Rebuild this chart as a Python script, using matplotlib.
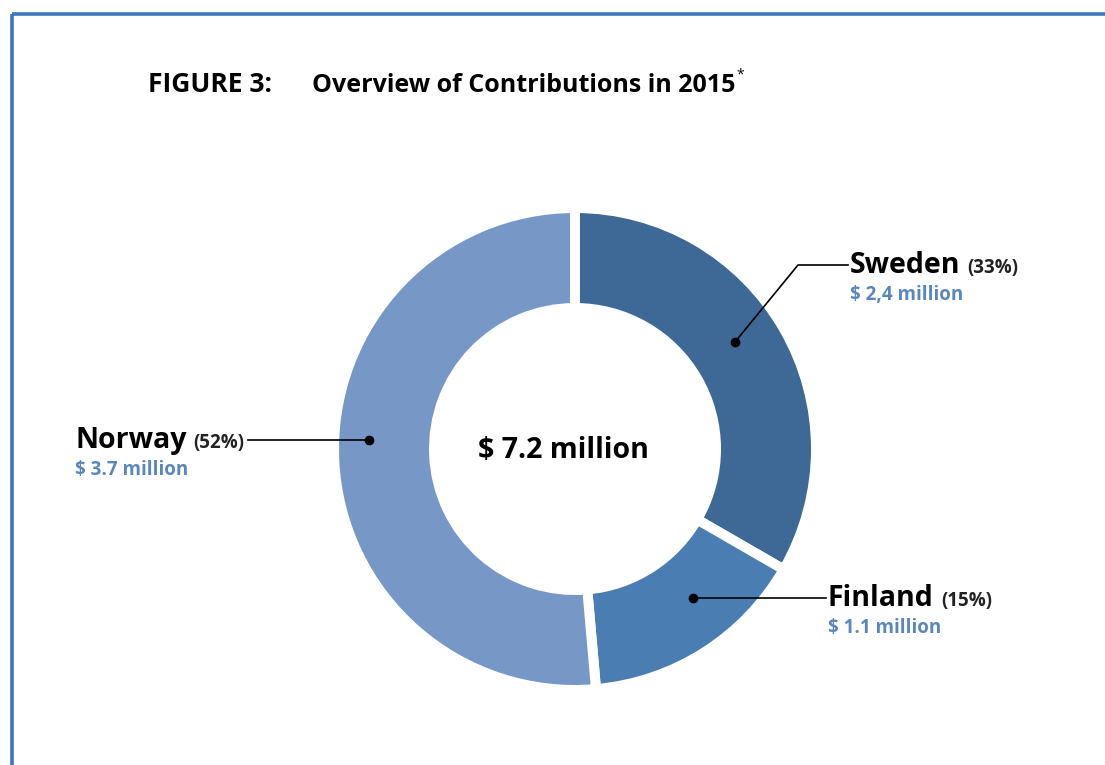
import numpy as np
import matplotlib
matplotlib.use("Agg")
from matplotlib import pyplot as plt

W, H = 1105, 765

countries = ["Sweden", "Finland", "Norway"]
amounts = [2.4, 1.1, 3.7]            # million USD
shares = ["(33%)", "(15%)", "(52%)"]
amount_labels = ["$ 2,4 million", "$ 1.1 million", "$ 3.7 million"]
total_label = "$ 7.2 million"
colors = ["#3e6896", "#4a7db2", "#7798c6"]

# label layout in pixel coords (x, y of leader line, dot position, elbow)
label_pos = [(850, 265), (828, 598), (75, 440)]
dot_pos = [(735, 342), (693, 598), (369, 440)]
elbow = [(798, 265), None, None]
line_end = [(848, 265), (826, 598), (248, 440)]

plt.rcParams['font.family'] = ['Open Sans', 'DejaVu Sans']

fig = plt.figure(figsize=(W / 100, H / 100), dpi=100)
ax = fig.add_axes([0, 0, 1, 1])
ax.set_xlim(0, W)
ax.set_ylim(0, H)
ax.set_aspect('equal')
ax.axis('off')


def py(y):
    return H - y


# frame
ax.plot([12, W], [py(14), py(14)], color="#3b78be", lw=2.6, solid_capstyle='butt')
ax.plot([12, 12], [py(14), 0], color="#3b78be", lw=2.6, solid_capstyle='butt')

# title
ax.text(148, py(92), "FIGURE 3:", fontsize=19, fontweight='bold', va='baseline',
        ha='left')
t = ax.text(312, py(92), "Overview of Contributions in 2015", fontsize=18,
            fontweight='bold', va='baseline', ha='left')
fig.canvas.draw()
bb = t.get_window_extent()
ax.text(bb.x1 + 1, py(75), "*", fontsize=10, va='center', ha='left')

# donut
cx, cy = 575, py(449)
ax.pie(amounts, colors=colors, startangle=90, counterclock=False,
       center=(cx, cy), radius=241,
       wedgeprops=dict(width=100, edgecolor='white', linewidth=7.2))
ax.set_xlim(0, W)
ax.set_ylim(0, H)

ax.text(563, py(450), total_label, fontsize=20.5, fontweight='bold',
        ha='center', va='center')

for i in range(len(countries)):
    dx, dy = dot_pos[i]
    ex, ey = line_end[i]
    pts = [(dx, dy)]
    if elbow[i] is not None:
        pts.append(elbow[i])
    pts.append((ex, ey))
    xs = [p[0] for p in pts]
    ys = [py(p[1]) for p in pts]
    ax.plot(xs, ys, color='black', lw=1.2)
    ax.plot(dx, py(dy), 'o', color='black', ms=6)

    lx, ly = label_pos[i]
    t = ax.text(lx, py(ly + 8), countries[i], fontsize=20.5, fontweight='bold',
                ha='left', va='baseline')
    fig.canvas.draw()
    bb = t.get_window_extent()
    ax.text(bb.x1 + 7, py(ly + 8), shares[i], fontsize=13.5, fontweight='bold',
            color='#222222', ha='left', va='baseline')
    ax.text(lx, py(ly + 35), amount_labels[i], fontsize=13.5, fontweight='bold',
            color='#5a86c0', ha='left', va='baseline')

fig.savefig("out.png", dpi=100)
